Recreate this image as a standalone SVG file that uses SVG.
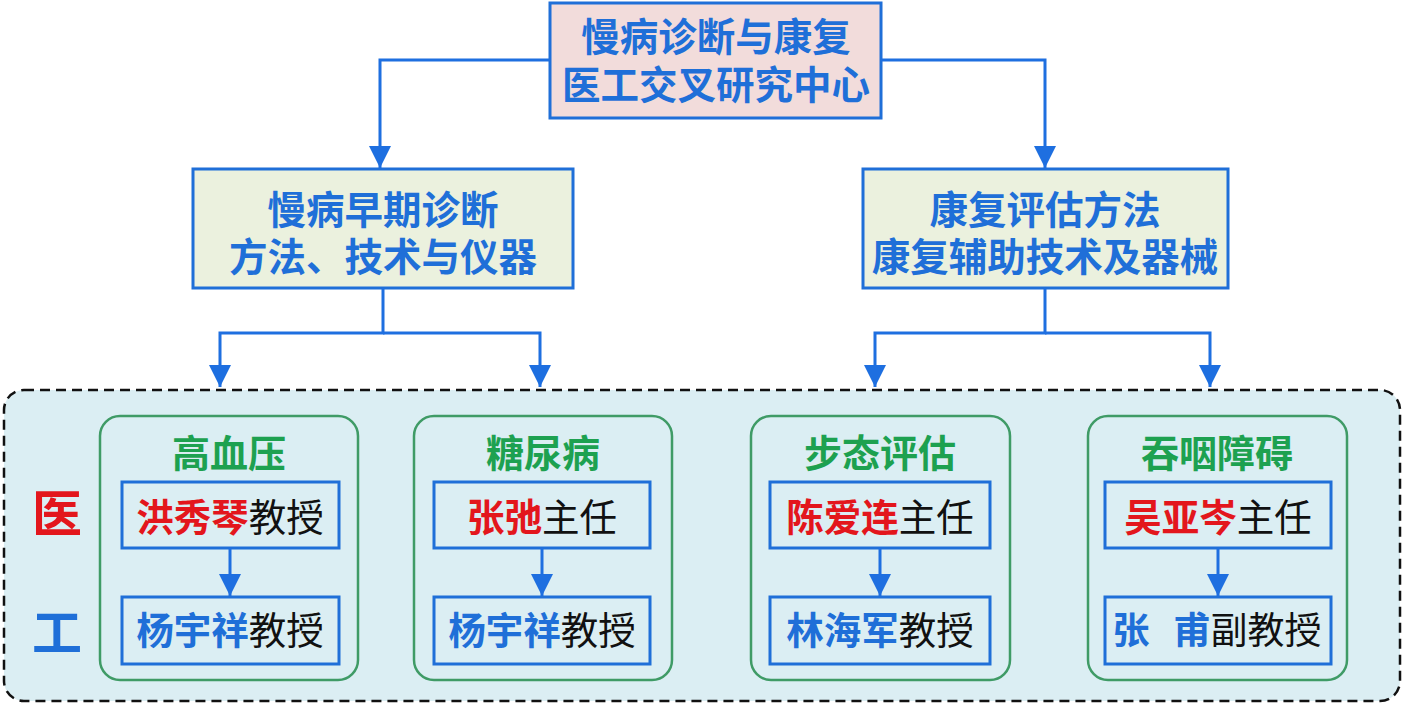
<svg xmlns="http://www.w3.org/2000/svg" width="1404" height="704" viewBox="0 0 1404 704">
<defs>
<marker id="arr" markerUnits="userSpaceOnUse" markerWidth="24" markerHeight="24" refX="22" refY="11" orient="auto">
<path d="M0,0 L22,11 L0,22 z" fill="#1E6FE0"/>
</marker>
<style>
text{font-family:"Noto Sans CJK SC","Noto Sans",sans-serif;text-anchor:middle}
.hb{font-size:38.5px;font-weight:700;fill:#1F6FD8}
.gt{font-size:38px;font-weight:700;fill:#1DA150}
.nm{font-size:37.5px}
.red{font-weight:700;fill:#E3161C}
.blu{font-weight:700;fill:#1F6FD8}
.blk{font-weight:400;fill:#111}
.box{stroke:#1F6FD8;stroke-width:3}
.grp{fill:none;stroke:#3F9B66;stroke-width:2.5}
.inner{fill:#DBEEF3;stroke:#1F6FD8;stroke-width:3}
.con{fill:none;stroke:#1E6FE0;stroke-width:3}
</style>
</defs>
<rect width="1404" height="704" fill="#FFFFFF"/>
<g id="panel">
<rect x="4" y="390" width="1396" height="311" rx="20" fill="#DBEEF3" stroke="#111" stroke-width="2.5" stroke-dasharray="10,6"/>
</g>
<g id="root">
<rect class="box" x="550" y="3" width="331" height="115" fill="#F2DCDB"/>
<text class="hb" x="716" y="51">慢病诊断与康复</text>
<text class="hb" x="716" y="99">医工交叉研究中心</text>
</g>
<g id="diag">
<rect class="box" x="193" y="169" width="380" height="119" fill="#EBF1DE"/>
<text class="hb" x="383" y="224">慢病早期诊断</text>
<text class="hb" x="383" y="271">方法、技术与仪器</text>
</g>
<g id="rehab">
<rect class="box" x="863" y="169" width="365" height="119" fill="#EBF1DE"/>
<text class="hb" x="1045" y="224">康复评估方法</text>
<text class="hb" x="1045" y="271">康复辅助技术及器械</text>
</g>
<g id="labels">
<text x="57" y="532" style="font-size:50px;font-weight:700;fill:#E3161C">医</text>
<text x="57" y="651" style="font-size:50px;font-weight:700;fill:#1F6FD8">工</text>
</g>
<g id="g1">
<rect class="grp" x="100" y="416" width="258" height="264" rx="20"/>
<text class="gt" x="229" y="467">高血压</text>
<rect class="inner" x="122" y="482" width="217" height="66"/>
<text class="nm" x="230" y="531"><tspan class="red">洪秀琴</tspan><tspan class="blk">教授</tspan></text>
<rect class="inner" x="122" y="597" width="217" height="67"/>
<text class="nm" x="230" y="644"><tspan class="blu">杨宇祥</tspan><tspan class="blk">教授</tspan></text>
</g>
<g id="g2">
<rect class="grp" x="414" y="416" width="258" height="264" rx="20"/>
<text class="gt" x="543" y="467">糖尿病</text>
<rect class="inner" x="434" y="482" width="216" height="66"/>
<text class="nm" x="542" y="531"><tspan class="red">张弛</tspan><tspan class="blk">主任</tspan></text>
<rect class="inner" x="434" y="597" width="216" height="67"/>
<text class="nm" x="542" y="644"><tspan class="blu">杨宇祥</tspan><tspan class="blk">教授</tspan></text>
</g>
<g id="g3">
<rect class="grp" x="751" y="416" width="259" height="264" rx="20"/>
<text class="gt" x="880" y="467">步态评估</text>
<rect class="inner" x="770" y="482" width="220" height="66"/>
<text class="nm" x="880" y="531"><tspan class="red">陈爱连</tspan><tspan class="blk">主任</tspan></text>
<rect class="inner" x="770" y="597" width="220" height="67"/>
<text class="nm" x="880" y="644"><tspan class="blu">林海军</tspan><tspan class="blk">教授</tspan></text>
</g>
<g id="g4">
<rect class="grp" x="1088" y="416" width="259" height="264" rx="20"/>
<text class="gt" x="1217" y="467">吞咽障碍</text>
<rect class="inner" x="1105" y="482" width="226" height="66"/>
<text class="nm" x="1218" y="531"><tspan class="red">吴亚岑</tspan><tspan class="blk">主任</tspan></text>
<rect class="inner" x="1105" y="597" width="226" height="67"/>
<text class="nm" x="1217" y="644" style="font-size:37px"><tspan class="blu">张</tspan><tspan class="blu" dx="24">甫</tspan><tspan class="blk">副教授</tspan></text>
</g>
<g id="connectors">
<path class="con" d="M550,60 H380 V168" marker-end="url(#arr)"/>
<path class="con" d="M881,60 H1045 V168" marker-end="url(#arr)"/>
<path class="con" d="M383,288 V333 H220 V387" marker-end="url(#arr)"/>
<path class="con" d="M383,333 H540 V387" marker-end="url(#arr)"/>
<path class="con" d="M1045,288 V333 H875 V387" marker-end="url(#arr)"/>
<path class="con" d="M1045,333 H1210 V387" marker-end="url(#arr)"/>
<path class="con" d="M230,548 V596" marker-end="url(#arr)"/>
<path class="con" d="M542,548 V596" marker-end="url(#arr)"/>
<path class="con" d="M880,548 V596" marker-end="url(#arr)"/>
<path class="con" d="M1218,548 V596" marker-end="url(#arr)"/>
</g>
</svg>
